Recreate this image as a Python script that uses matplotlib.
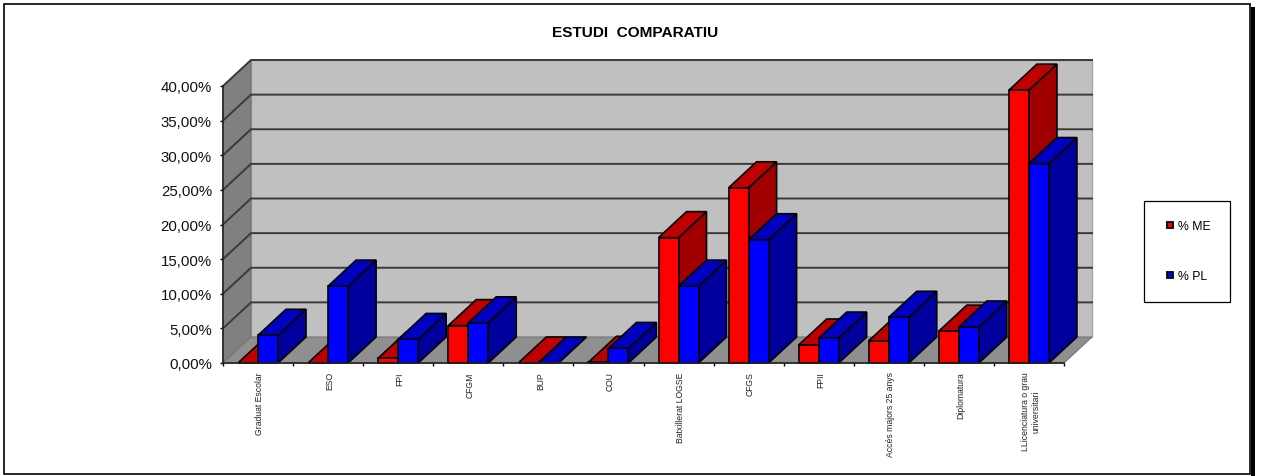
import matplotlib
matplotlib.use('Agg')
import matplotlib.pyplot as plt
from matplotlib.patches import Polygon, Rectangle
from matplotlib.lines import Line2D

plt.rcParams['font.family'] = ['Liberation Sans', 'DejaVu Sans']

# Data
categories = ['Graduat Escolar', 'ESO', 'FPI', 'CFGM', 'BUP', 'COU', 'Batxillerat LOGSE', 'CFGS',
              'FPII', 'Accés majors 25 anys', 'Diplomatura', 'LLicenciatura o grau\nuniversitari']
pct_me = [0.0, 0.0, 0.7, 5.4, 0.0, 0.1, 18.1, 25.3, 2.6, 3.2, 4.6, 39.4]
pct_pl = [4.0, 11.1, 3.4, 5.8, 0.0, 2.1, 11.1, 17.8, 3.6, 6.6, 5.2, 28.8]
yticks = [0, 5, 10, 15, 20, 25, 30, 35, 40]
ytick_labels = ['0,00%', '5,00%', '10,00%', '15,00%', '20,00%', '25,00%', '30,00%', '35,00%', '40,00%']

W, H = 1262, 477
fig = plt.figure(figsize=(W / 100, H / 100), dpi=100)
fig.patch.set_facecolor('white')

# outer frame + shadow on the right (behind the axes)
fig.add_artist(Rectangle((4 / W, 1 - 475 / H), 1246 / W, 470.5 / H, transform=fig.transFigure,
                         fc='white', ec='black', lw=1.2, zorder=-2))
fig.add_artist(Rectangle((1251 / W, 1 - 477 / H), 4 / W, 469 / H, transform=fig.transFigure,
                         fc='black', ec='none', zorder=-2))

ax = fig.add_axes([223 / W, 1 - 364 / H, 841 / W, 277 / H])
ax.set_xlim(0, 12)
ax.set_ylim(0, 40)
ax.patch.set_visible(False)

# depth of the fake 3D box, in data units
dx = 28 / (841 / 12)
dy = 26 / (277 / 40)


def poly(pts, fc, ec='none', lw=0, z=1):
    ax.add_patch(Polygon(pts, closed=True, fc=fc, ec=ec, lw=lw, zorder=z, clip_on=False, joinstyle='miter'))


# walls
poly([(dx, dy), (12 + dx, dy), (12 + dx, 40 + dy), (dx, 40 + dy)], '#c0c0c0', '#a8a8a8', 1.0)
poly([(0, 0), (dx, dy), (dx, 40 + dy), (0, 40)], '#808080', '#6e6e6e', 0.8)
poly([(0, 0), (12, 0), (12 + dx, dy), (dx, dy)], '#8f8f8f', '#777777', 0.8)

# gridlines on back and side wall
for v in yticks[1:]:
    ax.plot([0, dx, 12 + dx], [v, v + dy, v + dy], color='#3a3a3a', lw=1.4, zorder=2, clip_on=False)


def bar3d(x0, w, h, front, top_c, side):
    # side and top first, front on top
    ec = 'black'
    lw = 1.2
    poly([(x0 + w, 0), (x0 + w + dx, dy), (x0 + w + dx, h + dy), (x0 + w, h)], side, ec, lw, 3)
    poly([(x0, h), (x0 + w, h), (x0 + w + dx, h + dy), (x0 + dx, h + dy)], top_c, ec, lw, 3)
    if h > 0:
        poly([(x0, 0), (x0 + w, 0), (x0 + w, h), (x0, h)], front, ec, lw, 3)


bar_w = 20 / (841 / 12)
gap = 15 / (841 / 12)
for i in range(len(categories)):
    bar3d(i + gap, bar_w, pct_me[i], '#ff0000', '#c00000', '#a00000')
    bar3d(i + gap + bar_w, bar_w, pct_pl[i], '#0000ff', '#0000c0', '#00009c')

# axes
for s in ['top', 'right']:
    ax.spines[s].set_visible(False)
for s in ['left', 'bottom']:
    ax.spines[s].set_color('#222222')
    ax.spines[s].set_linewidth(1.2)
    ax.spines[s].set_zorder(5)
ax.set_yticks(yticks)
ax.set_yticklabels(ytick_labels, fontsize=10.8, color='#111111')
ax.tick_params(axis='y', length=2, width=1, pad=6)
ax.set_xticks(range(13))
ax.set_xticklabels([''] * 13)
ax.tick_params(axis='x', length=2.5, width=1, direction='out')
for i, c in enumerate(categories):
    ax.annotate(c, (i + 0.5, 0), xytext=(1.4, -6), textcoords='offset points', rotation=90,
                ha='center', va='top', fontsize=6.2, multialignment='center', color='#222222')

fig.text(635 / W, 1 - 33 / H, 'ESTUDI  COMPARATIU', ha='center', va='center', fontsize=11.1, fontweight='bold')

handles = [Line2D([], [], ls='none', marker='s', ms=4.6, mfc='#ff0000', mec='black', mew=1.3),
           Line2D([], [], ls='none', marker='s', ms=4.6, mfc='#0000ff', mec='black', mew=1.3)]
leg = fig.legend(handles, ['% ME', '% PL'], loc='upper left', bbox_to_anchor=(1144 / W, 1 - 201.5 / H),
                 fontsize=8.8, frameon=True, fancybox=False, framealpha=1, edgecolor='black',
                 borderpad=1.6, labelspacing=3.1, handlelength=1.0, handletextpad=0.15, borderaxespad=0)
leg.get_frame().set_linewidth(0.9)

fig.savefig('out.png', dpi=100)
